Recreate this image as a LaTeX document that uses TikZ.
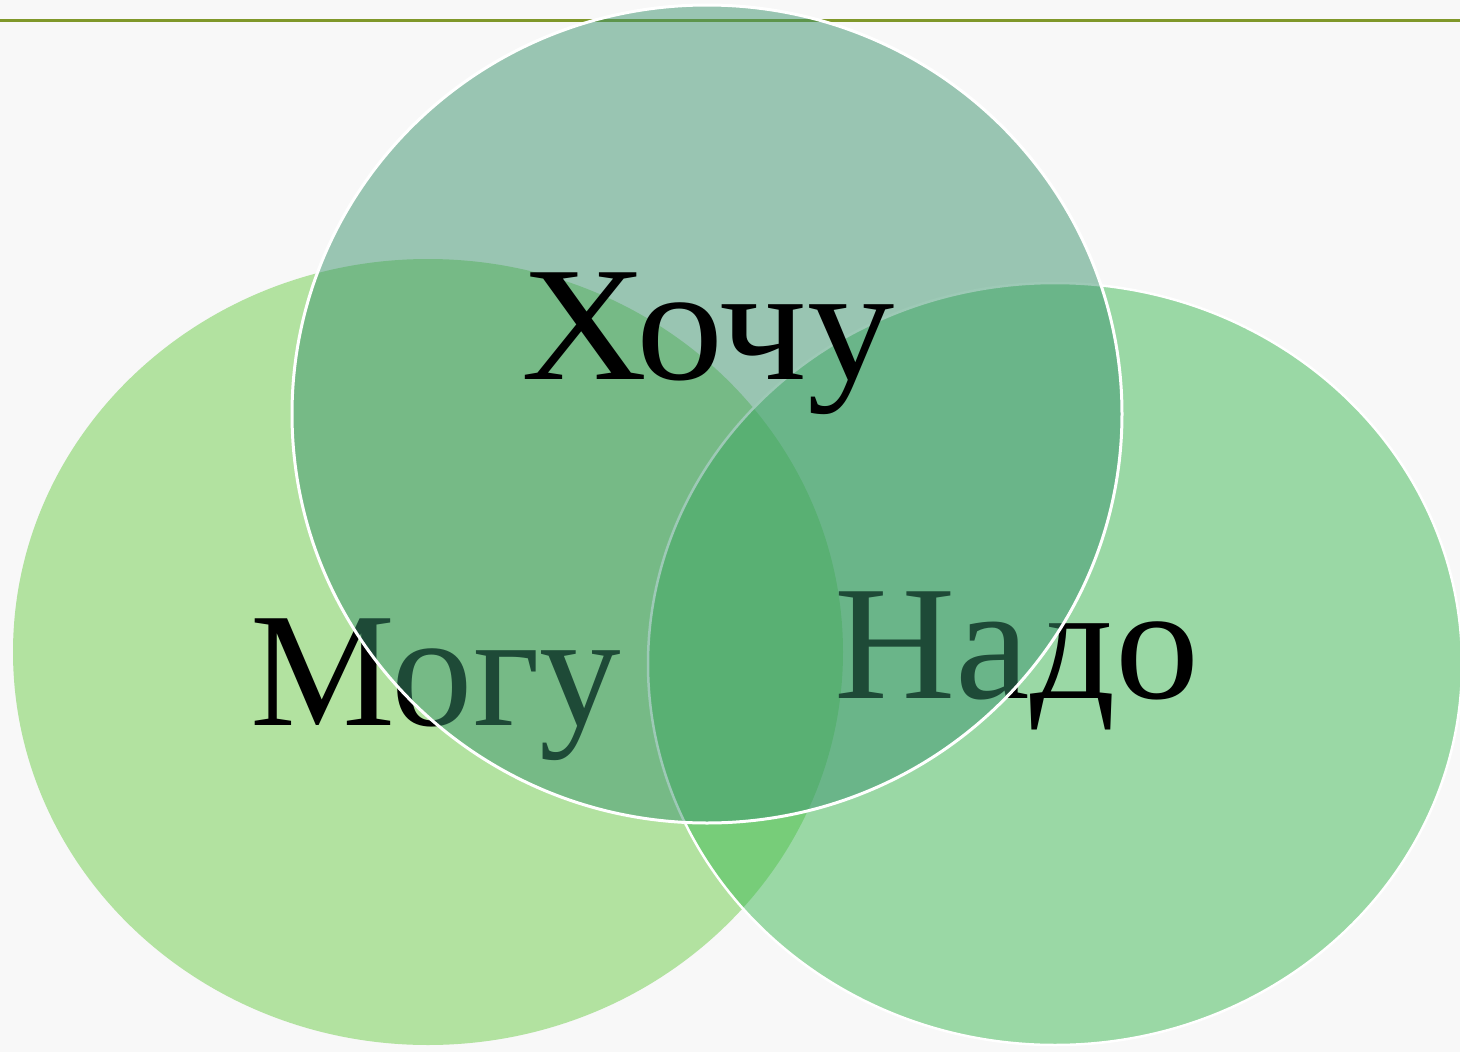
\documentclass[tikz,border=0pt]{standalone}
\usepackage{fontspec}
\setmainfont{Liberation Serif}
\definecolor{bgc}{RGB}{248,248,248}
\definecolor{linec}{RGB}{128,152,42}
\definecolor{leftc}{RGB}{178,226,160}
\definecolor{rightc}{RGB}{62,186,84}
\definecolor{topc}{RGB}{60,148,110}
\tikzset{
  word/.style={anchor=base, inner sep=0pt, font=\fontsize{163}{163}\selectfont, text=black},
}
\begin{document}
\begin{tikzpicture}[x=1pt,y=-1pt]
\useasboundingbox (0,0) rectangle (1460,1052);
\clip (0,0) rectangle (1460,1052);
\fill[bgc] (0,0) rectangle (1460,1052);
\coordinate (la) at (0,20.5);
\coordinate (lb) at (1460,20.5);
\draw[linec, line width=3.5pt] (la) -- (lb);
% left ellipse
\fill[leftc] (428,652) ellipse [x radius=415pt, y radius=393pt];
% right ellipse
\fill[rightc, fill opacity=0.5] (1055,664) ellipse [x radius=407pt, y radius=381pt];
\draw[white, line width=2.5pt] (1055,664) ellipse [x radius=407pt, y radius=381pt];
% texts under the top circle
\node[word] (mogu) at (436,725) {Могу};
\node[word, xscale=1.03] (nado) at (1017,698) {Надо};
% top circle
\fill[topc, fill opacity=0.5] (707,414) ellipse [x radius=415pt, y radius=409pt];
\draw[white, line width=3pt] (707,414) ellipse [x radius=415pt, y radius=409pt];
\node[word, xscale=1.07] (hochu) at (708,379) {Хочу};
\end{tikzpicture}
\end{document}
